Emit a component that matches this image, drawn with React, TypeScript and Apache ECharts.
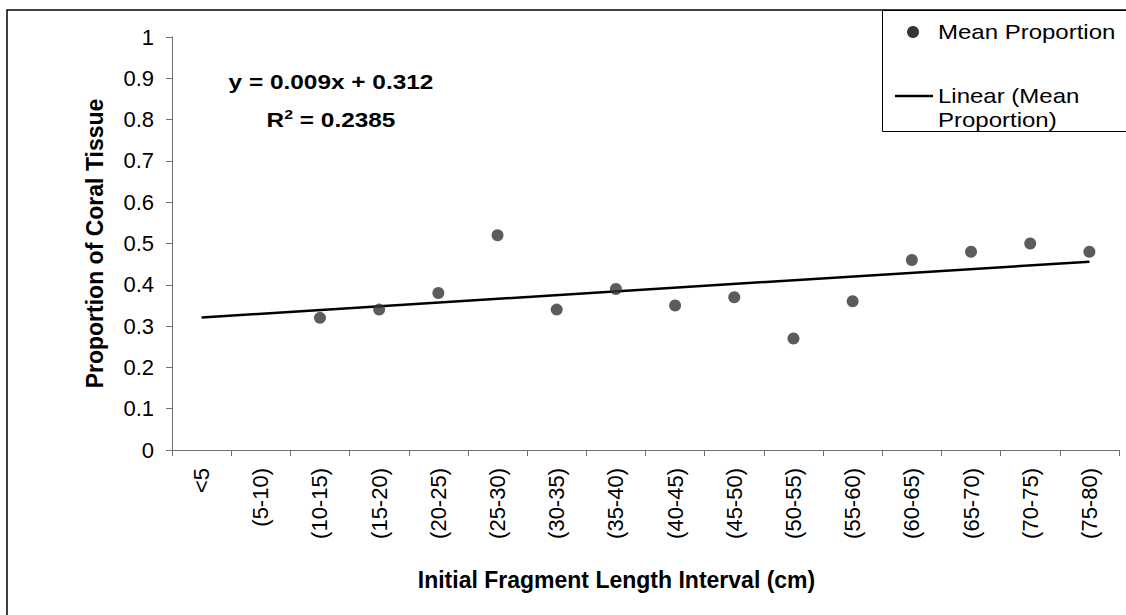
import React, { useEffect, useRef } from "react";
import * as echarts from "echarts";

const categories = [
  "<5", "(5-10)", "(10-15)", "(15-20)", "(20-25)", "(25-30)", "(30-35)", "(35-40)",
  "(40-45)", "(45-50)", "(50-55)", "(55-60)", "(60-65)", "(65-70)", "(70-75)", "(75-80)",
];
const meanProportion: (number | null)[] = [
  null, null, 0.32, 0.34, 0.38, 0.52, 0.34, 0.39, 0.35, 0.37, 0.27, 0.36, 0.46, 0.48, 0.5, 0.48,
];
// Trendline printed on the chart: y = 0.009x + 0.312 (x = category number 1..16)
const trendSlope = 0.009;
const trendIntercept = 0.312;
const yTicks = [0, 0.1, 0.2, 0.3, 0.4, 0.5, 0.6, 0.7, 0.8, 0.9, 1];

const FONT = "Liberation Sans, Arial, sans-serif";
const TICK_FS = 22;
const TITLE_FS = 23;

export default function App() {
  const ref = useRef<HTMLDivElement>(null);
  useEffect(() => {
    if (!ref.current) return;
    const chart = echarts.init(ref.current, null, { renderer: "svg" });
    const n = categories.length;
    const trendData = [
      [categories[0], trendSlope * 1 + trendIntercept],
      [categories[n - 1], trendSlope * n + trendIntercept],
    ];
    const scatterData = meanProportion.map((v) => (v == null ? "-" : v));
    const legendText = (text: string, y: number) => ({
      type: "text",
      x: 938,
      y,
      scaleX: 1.2,
      style: {
        text,
        fontSize: 20,
        fontFamily: FONT,
        fill: "#000",
        verticalAlign: "middle",
        align: "left",
      },
    });
    chart.setOption({
      animation: false,
      backgroundColor: "#fff",
      textStyle: { fontFamily: FONT },
      grid: { left: 172, top: 37, right: 7, bottom: 165, containLabel: false },
      xAxis: {
        type: "category",
        data: categories,
        boundaryGap: true,
        axisLine: { lineStyle: { color: "#707070", width: 1 } },
        axisTick: { show: true, length: 6, alignWithLabel: false, lineStyle: { color: "#707070" } },
        axisLabel: {
          rotate: 90,
          margin: 18,
          fontSize: TICK_FS,
          color: "#000",
          fontFamily: FONT,
          interval: 0,
        },
        name: "Initial Fragment Length Interval (cm)",
        nameLocation: "middle",
        nameGap: 118,
        nameTextStyle: {
          fontSize: TITLE_FS,
          fontWeight: "bold",
          color: "#000",
          fontFamily: FONT,
          padding: [0, 58, 0, 0],
        },
        splitLine: { show: false },
      },
      yAxis: {
        type: "value",
        min: 0,
        max: 1,
        interval: 0.1,
        axisLine: { show: true, lineStyle: { color: "#707070", width: 1 } },
        axisTick: { show: true, length: 6, lineStyle: { color: "#707070" } },
        axisLabel: {
          fontSize: TICK_FS,
          color: "#000",
          margin: 18,
          fontFamily: FONT,
          formatter: (v: number) => {
            const t = yTicks.find((x) => Math.abs(x - v) < 1e-6);
            return String(t !== undefined ? t : +v.toFixed(1));
          },
        },
        splitLine: { show: false },
        name: "Proportion of Coral Tissue",
        nameLocation: "middle",
        nameGap: 66,
        nameRotate: 90,
        nameTextStyle: { fontSize: TITLE_FS, fontWeight: "bold", color: "#000", fontFamily: FONT },
      },
      series: [
        {
          name: "Linear (Mean Proportion)",
          type: "line",
          data: trendData,
          symbol: "none",
          lineStyle: { color: "#000", width: 2.5 },
          z: 2,
        },
        {
          name: "Mean Proportion",
          type: "scatter",
          data: scatterData,
          symbol: "circle",
          symbolSize: 12,
          itemStyle: { color: "#333333" },
          z: 3,
        },
      ],
      graphic: [
        {
          type: "rect",
          shape: { x: 7, y: 10, width: 1300, height: 800 },
          style: { fill: "none", stroke: "#000", lineWidth: 1.5 },
          silent: true,
        },
        {
          type: "rect",
          shape: { x: 882.5, y: 10.5, width: 400, height: 121 },
          style: { fill: "#fff", stroke: "#000", lineWidth: 1 },
          silent: true,
        },
        {
          type: "circle",
          shape: { cx: 913, cy: 32, r: 6 },
          style: { fill: "#333333" },
          silent: true,
        },
        legendText("Mean Proportion", 32),
        {
          type: "line",
          shape: { x1: 895, y1: 96, x2: 933, y2: 96 },
          style: { stroke: "#000", lineWidth: 2.5 },
          silent: true,
        },
        legendText("Linear (Mean", 96),
        legendText("Proportion)", 120),
        {
          type: "text",
          x: 331,
          y: 82,
          scaleX: 1.22,
          style: {
            text: "y = 0.009x + 0.312",
            fontSize: 20,
            fontWeight: "bold",
            fontFamily: FONT,
            fill: "#000",
            align: "center",
            verticalAlign: "middle",
          },
        },
        {
          type: "text",
          x: 331,
          y: 119,
          scaleX: 1.22,
          style: {
            text: "{b|R}{s|2}{b| = 0.2385}",
            fontFamily: FONT,
            fill: "#000",
            align: "center",
            verticalAlign: "middle",
            rich: {
              b: { fontSize: 20, fontWeight: "bold", fontFamily: FONT, fill: "#000", verticalAlign: "bottom", lineHeight: 22 },
              s: { fontSize: 13, fontWeight: "bold", fontFamily: FONT, fill: "#000", verticalAlign: "top", lineHeight: 22, padding: [0, 0, 10, 0] },
            },
          },
        },
      ],
    });
    return () => chart.dispose();
  }, []);
  return (
    <div
      ref={ref}
      style={{ position: "fixed", left: 0, top: 0, width: 1126, height: 615, background: "#fff" }}
    />
  );
}
